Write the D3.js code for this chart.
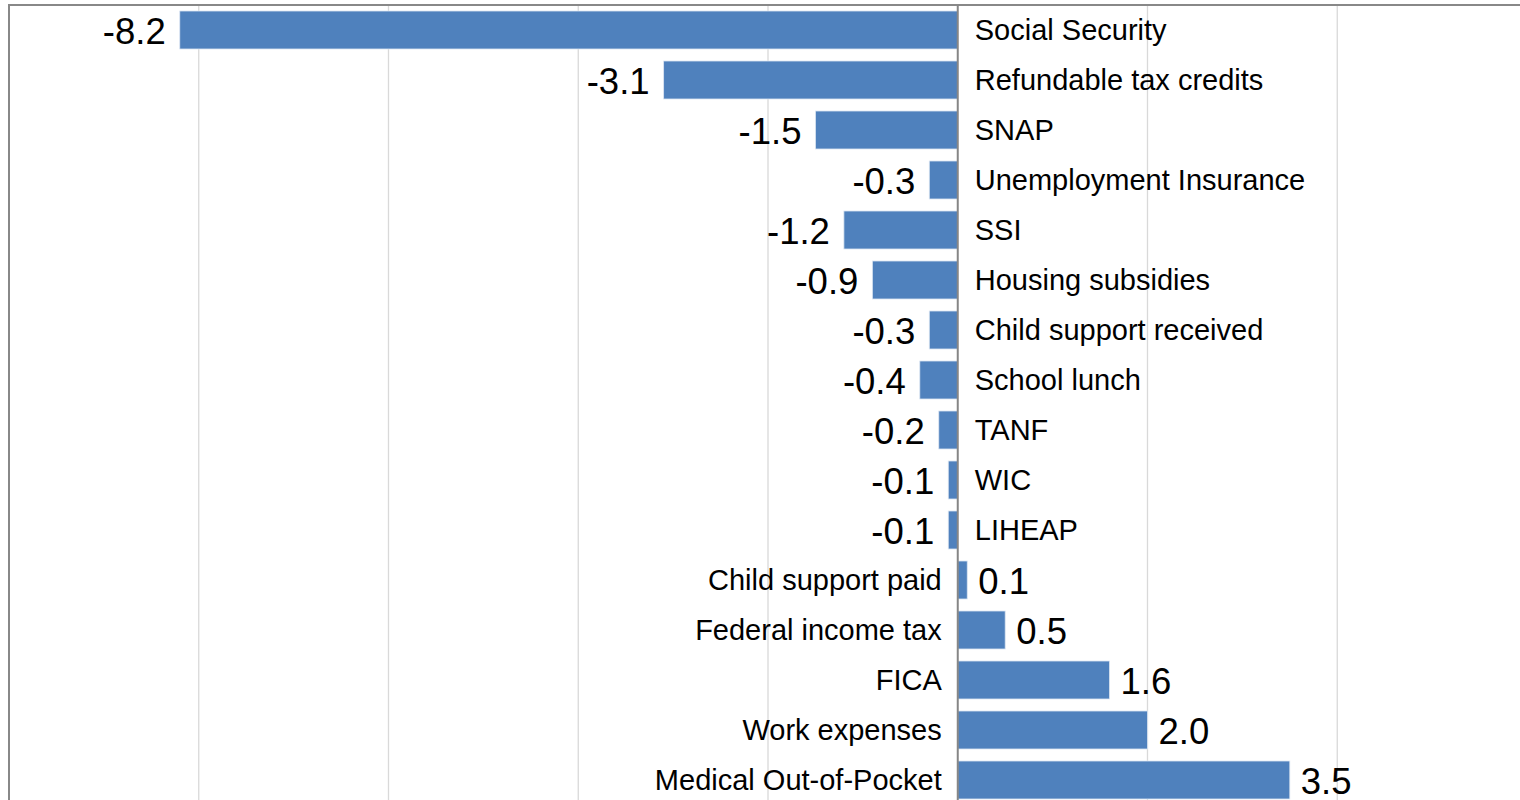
<!DOCTYPE html>
<html><head><meta charset="utf-8">
<script src="https://cdn.jsdelivr.net/npm/d3@7"></script>
<style>
html,body{margin:0;padding:0;background:#fff;overflow:hidden}
svg{display:block}
text{font-family:"Liberation Sans",Arial,sans-serif;fill:#000}
</style></head>
<body>
<svg id="c" width="1520" height="800"></svg>
<script>
const categories = ["Social Security","Refundable tax credits","SNAP","Unemployment Insurance","SSI","Housing subsidies","Child support received","School lunch","TANF","WIC","LIHEAP","Child support paid","Federal income tax","FICA","Work expenses","Medical Out-of-Pocket"];
const values = [-8.2,-3.1,-1.5,-0.3,-1.2,-0.9,-0.3,-0.4,-0.2,-0.1,-0.1,0.1,0.5,1.6,2.0,3.5];
const labels = ["-8.2","-3.1","-1.5","-0.3","-1.2","-0.9","-0.3","-0.4","-0.2","-0.1","-0.1","0.1","0.5","1.6","2.0","3.5"];
const gridTicks = [-10,-8,-6,-4,-2,0,2,4,6];

const svg = d3.select("#c");
const x = d3.scaleLinear().domain([-10,6]).range([9,1527]);
const y = d3.scaleBand().domain(categories).range([5,805]).paddingInner(0.24).paddingOuter(0.12);

// gridlines
svg.append("g").selectAll("line").data(gridTicks.filter(d=>d!==0 && d!==-10)).join("line")
  .attr("x1",d=>x(d)).attr("x2",d=>x(d)).attr("y1",5).attr("y2",800)
  .attr("stroke","#d9d9d9").attr("stroke-width",1.3);

// plot border
svg.append("line").attr("x1",8).attr("x2",1520).attr("y1",5).attr("y2",5).attr("stroke","#888").attr("stroke-width",2);
svg.append("line").attr("x1",x(-10)).attr("x2",x(-10)).attr("y1",4).attr("y2",800).attr("stroke","#888").attr("stroke-width",2);

// bars
svg.append("g").selectAll("rect").data(values).join("rect")
  .attr("x",d=>x(Math.min(0,d))).attr("width",d=>Math.abs(x(d)-x(0)))
  .attr("y",(d,i)=>y(categories[i])).attr("height",y.bandwidth())
  .attr("fill","#4f81bd").attr("stroke","#dce6f2").attr("stroke-width",0.8);

// zero axis
svg.append("line").attr("x1",x(0)).attr("x2",x(0)).attr("y1",5).attr("y2",800).attr("stroke","#868686").attr("stroke-width",2);

// category labels
svg.append("g").selectAll("text").data(categories).join("text")
  .attr("x",(d,i)=>values[i]<0 ? x(0)+17 : x(0)-16)
  .attr("y",d=>y(d)+y.bandwidth()/2)
  .attr("dy","0.35em")
  .attr("text-anchor",(d,i)=>values[i]<0?"start":"end")
  .style("font-size","29px")
  .text(d=>d);

// value labels
svg.append("g").selectAll("text").data(values).join("text")
  .attr("x",d=>d<0 ? x(d)-14 : x(d)+11)
  .attr("y",(d,i)=>y(categories[i])+y.bandwidth()/2+1)
  .attr("dy","0.35em")
  .attr("text-anchor",d=>d<0?"end":"start")
  .style("font-size","36.5px")
  .text((d,i)=>labels[i]);
</script>
</body></html>
